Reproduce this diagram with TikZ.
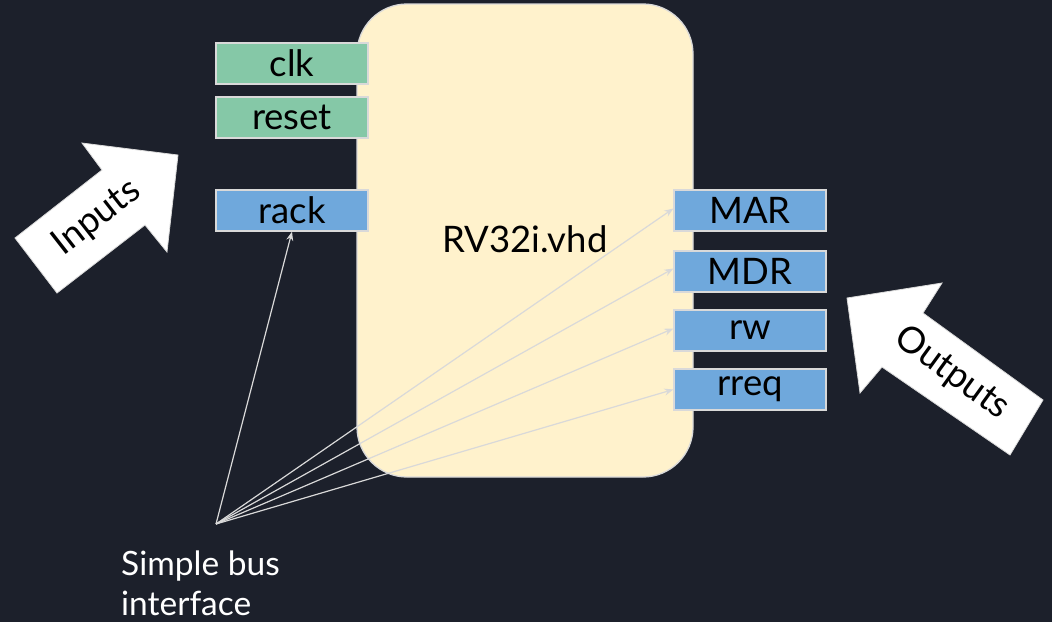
\documentclass[tikz,border=0pt]{standalone}
\usepackage{fontspec}
\setmainfont{Lato}
\usetikzlibrary{arrows.meta}
\definecolor{bg}{HTML}{1C202B}
\definecolor{core}{HTML}{FFF2CC}
\definecolor{edge}{HTML}{D9D9D9}
\definecolor{ctl}{HTML}{85C8A7}
\definecolor{bus}{HTML}{6FA8DC}
\tikzset{
  sig/.style={draw=edge, line width=1.3pt, minimum width=152pt, minimum height=41pt,
    inner sep=0pt, text=black, font=\fontsize{36.5}{40}\selectfont},
  ctlsig/.style={sig, fill=ctl},
  bussig/.style={sig, fill=bus},
  blockarrow/.style={fill=white, draw=edge, line width=0.8pt, line join=miter},
  wire/.style={draw=edge, line width=1.2pt, -{Stealth[length=9pt,width=7pt]}},
  lbl/.style={font=\fontsize{36.5}{40}\selectfont, inner sep=0pt}
}
\begin{document}
\begin{tikzpicture}[x=1pt, y=-1pt]
  % canvas
  \fill[bg] (0,0) rectangle (1052,622);
  \useasboundingbox (0,0) rectangle (1052,622);

  % processor core
  \draw[fill=core, draw=edge, line width=1.3pt, rounded corners=50pt]
    (357,4) rectangle (693,477);
  \node[lbl, text=black, anchor=base] (core) at (525,252) {RV32i.vhd};

  % input ports
  \node[ctlsig] (clk)   at (292,63.5)  {clk};
  \node[ctlsig] (reset) at (292,117.5) {reset};
  \node[bussig] (rack)  at (292,210.5) {rack};

  % output ports
  \node[bussig] (mar)  at (750,210.5) {MAR};
  \node[bussig] (mdr)  at (750,271.5) {MDR};
  \node[bussig] (rw)   at (750,330.5) {rw};
  \node[bussig] (rreq) at (750,389.5) {rreq};

  % bus interface label and its connectors
  \coordinate (src) at (216,524);
  \node[font=\fontsize{33.5}{40}\selectfont, inner sep=0pt, text=white,
    anchor=base west, align=left] (busl) at (121,615)
    {Simple bus\\interface};
  \draw[wire] (src) -- (rack.south);
  \draw[wire] (src) -- ([yshift=2pt]mar.west);
  \draw[wire] (src) -- ([yshift=3pt]mdr.west);
  \draw[wire] (src) -- ([yshift=2pt]rw.west);
  \draw[wire] (src) -- (rreq.west);

  % direction arrows
  \draw[blockarrow] (15,238) -- (102,170) -- (82,143) -- (178,155)
    -- (167,252) -- (145,225) -- (57,293) -- cycle;
  \node[lbl, rotate=38, text=black] (inputs) at (97,218) {Inputs};

  \draw[blockarrow] (1043,400) -- (923,313) -- (942,283) -- (847,298)
    -- (860,393) -- (882,367) -- (1010,455) -- cycle;
  \node[lbl, rotate=-36, text=black] (outputs) at (952,373) {Outputs};
\end{tikzpicture}
\end{document}
